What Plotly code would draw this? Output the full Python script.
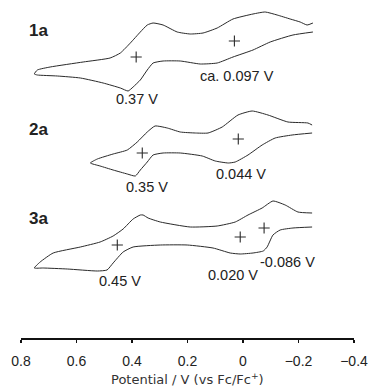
import plotly.graph_objects as go

# ---- data: potentials (V vs Fc/Fc+) and currents (arbitrary units) ----
# each CV trace: lower branch (right -> left) then upper branch (left -> right)
pot_1a = [-0.252, -0.180, -0.098, -0.036, 0.036, 0.093, 0.154, 0.226, 0.288, 0.324,
          0.345, 0.370, 0.396, 0.414, 0.442, 0.504, 0.586, 0.669, 0.741, 0.752,
          0.741, 0.695, 0.576, 0.479, 0.442, 0.406, 0.370, 0.345, 0.324, 0.288,
          0.237, 0.190, 0.144, 0.093, 0.036, -0.036, -0.080, -0.123, -0.170, -0.206,
          -0.231, -0.252]
cur_1a = [23, 20, 13, 5, -2, -8, -9, -6, -6, -8,
          -15, -25, -32, -36, -33, -28, -23, -21, -20, -19,
          -15, -12, -7, -3, 2, 12, 23, 30, 32, 30,
          23, 21, 22, 27, 36, 41, 43, 40, 36, 33,
          30, 32]

pot_2a = [-0.249, -0.177, -0.116, -0.069, -0.018, 0.028, 0.053, 0.100, 0.147, 0.226,
          0.288, 0.324, 0.345, 0.370, 0.388, 0.417, 0.468, 0.515, 0.550,
          0.525, 0.468, 0.417, 0.381, 0.345, 0.317, 0.273, 0.226, 0.172, 0.126,
          0.075, 0.018, -0.033, -0.090, -0.162, -0.234, -0.249]
cur_2a = [12, 10, 7, 0, -10, -17, -18, -16, -11, -8,
          -8, -10, -17, -25, -31, -29, -25, -21, -18,
          -14, -9, -5, 3, 13, 19, 17, 13, 12, 12,
          18, 30, 34, 30, 23, 22, 20]

pot_3a = [-0.249, -0.180, -0.134, -0.108, -0.087, -0.073, -0.036, 0.010, 0.046, 0.108,
          0.201, 0.298, 0.396, 0.432, 0.468, 0.490, 0.525, 0.633, 0.720, 0.752,
          0.731, 0.684, 0.586, 0.515, 0.468, 0.432, 0.396, 0.370, 0.360, 0.342,
          0.298, 0.190, 0.093, 0.028, -0.018, -0.069, -0.108, -0.152, -0.198, -0.249]
cur_3a = [8, 7, 5, 0, -12, -16, -18, -19, -18, -13,
          -10, -10, -12, -17, -28, -35, -36, -34, -33, -33,
          -27, -18, -12, -7, -1, 6, 16, 20, 20, 17,
          13, 8, 9, 13, 20, 27, 34, 30, 23, 22]

# half-wave potential markers (+)
e_pot_1a = [0.385, 0.031]
e_cur_1a = [-2, 14]
e_pot_2a = [0.363, 0.017]
e_cur_2a = [-8, 6]
e_pot_3a = [0.453, 0.010, -0.076]
e_cur_3a = [-10, -2, 7]

labels_1a = ["0.37 V", "ca. 0.097 V"]
labels_2a = ["0.35 V", "0.044 V"]
labels_3a = ["0.45 V", "0.020 V", "-0.086 V"]

tick_vals = [0.8, 0.6, 0.4, 0.2, 0.0, -0.2, -0.4]
tick_text = ["0.8", "0.6", "0.4", "0.2", "0", "\u22120.2", "\u22120.4"]

# ---- layout helpers ----
offsets = {"1a": 283, "2a": 193, "3a": 103}
LINE = "#2a2a2a"
FONT = "Liberation Sans"

fig = go.Figure()

curves = [("1a", pot_1a, cur_1a, e_pot_1a, e_cur_1a),
          ("2a", pot_2a, cur_2a, e_pot_2a, e_cur_2a),
          ("3a", pot_3a, cur_3a, e_pot_3a, e_cur_3a)]

for name, p, c, ep, ec in curves:
    off = offsets[name]
    fig.add_trace(go.Scatter(x=p, y=[v + off for v in c], mode="lines",
                             line=dict(color=LINE, width=1, shape="spline", smoothing=0.5),
                             hoverinfo="skip", showlegend=False))
    fig.add_trace(go.Scatter(x=ep, y=[v + off for v in ec], mode="markers",
                             marker=dict(symbol="cross-thin", size=8,
                                         line=dict(color=LINE, width=1.1)),
                             hoverinfo="skip", showlegend=False))

# value labels
label_pos = [
    (labels_1a[0], 0.381, 239), (labels_1a[1], 0.021, 262),
    (labels_2a[0], 0.345, 151), (labels_2a[1], 0.007, 164),
    (labels_3a[0], 0.442, 57), (labels_3a[1], 0.036, 63), (labels_3a[2], -0.159, 76),
]
for txt, x, y in label_pos:
    fig.add_annotation(x=x, y=y, text=txt, showarrow=False, xanchor="center", yanchor="middle",
                       font=dict(family=FONT, size=14.5, color="#222"))

# compound labels
for name, y in [("1a", 308), ("2a", 209), ("3a", 119.5)]:
    fig.add_annotation(x=0.738, y=y, text="<b>%s</b>" % name, showarrow=False,
                       xanchor="center", yanchor="middle",
                       font=dict(family=FONT, size=17, color="#222"))

# axis title
fig.add_annotation(xref="paper", yref="paper", x=0.5, y=0, yshift=-41,
                   text="Potential / V (vs Fc/Fc<sup>+</sup>)", showarrow=False,
                   xanchor="center", yanchor="middle",
                   font=dict(family="DejaVu Sans", size=13, color="#333"))

fig.update_layout(
    width=368, height=390,
    margin=dict(l=21, r=14, t=0, b=52, pad=0, autoexpand=False),
    paper_bgcolor="white", plot_bgcolor="white",
    xaxis=dict(range=[0.8, -0.4], tickvals=tick_vals, ticktext=tick_text,
               automargin=False, ticklabeloverflow="allow",
               showgrid=False, zeroline=False, showline=True, linecolor="#111", linewidth=1.5,
               ticks="outside", ticklen=3, tickwidth=1.5, tickcolor="#111",
               ticklabelstandoff=7,
               tickfont=dict(family=FONT, size=14, color="#222")),
    yaxis=dict(range=[0, 338], visible=False, showgrid=False, zeroline=False, automargin=False),
)

fig.write_html("out.html", config={"displayModeBar": False, "staticPlot": True},
               post_script="document.body.style.margin='0';document.body.style.overflow='hidden';")
